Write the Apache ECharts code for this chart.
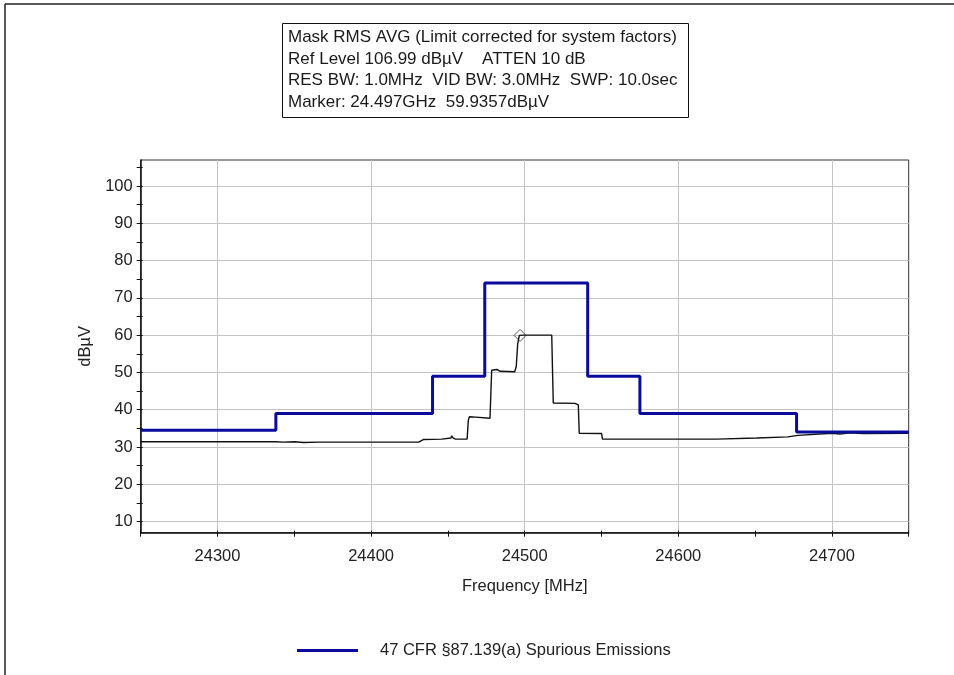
<!DOCTYPE html>
<html>
<head>
<meta charset="utf-8">
<script src="https://cdn.jsdelivr.net/npm/echarts@6/dist/echarts.min.js"></script>
<style>
html,body{margin:0;padding:0;background:#fff;}
#chart{width:954px;height:675px;}
</style>
</head>
<body>
<div id="chart"></div>
<script>
// ---- data ----
const infoLines = [
  'Mask RMS AVG (Limit corrected for system factors)',
  'Ref Level 106.99 dBµV    ATTEN 10 dB',
  'RES BW: 1.0MHz  VID BW: 3.0MHz  SWP: 10.0sec',
  'Marker: 24.497GHz  59.9357dBµV'
];
const limitName = '47 CFR §87.139(a) Spurious Emissions';
const xAxisName = 'Frequency [MHz]';
const yAxisName = 'dBµV';

const xLabelValues = [24300, 24400, 24500, 24600, 24700];
const xTickValues = [24250, 24300, 24350, 24400, 24450, 24500, 24550, 24600, 24650, 24700, 24750];
const yLabelValues = [10, 20, 30, 40, 50, 60, 70, 80, 90, 100];
const yTickValues = [10, 15, 20, 25, 30, 35, 40, 45, 50, 55, 60, 65, 70, 75, 80, 85, 90, 95, 100, 105];

// limit mask breakpoints (step)
const limitFreq  = [24250, 24338, 24440, 24474, 24541, 24575, 24677, 24750];
const limitLevel = [34.5,  39,    49,    74,    49,    39,    34,    34];

// measured trace
const traceFreq = [24250, 24264, 24265, 24266, 24271, 24272, 24273, 24338, 24339, 24343,
  24344, 24350, 24356, 24357, 24366, 24431, 24432, 24434, 24446, 24447,
  24452, 24452.5, 24453.5, 24455, 24462.5, 24463.3, 24464, 24468, 24469, 24477.4,
  24478.5, 24482, 24484, 24493.5, 24494.5, 24495.4, 24496.5, 24497.5, 24499, 24517.6,
  24518.6, 24532.7, 24533, 24534.9, 24535.5, 24550.1, 24550.6, 24583, 24583.5, 24584,
  24586, 24586.5, 24587, 24625, 24625.5, 24651, 24651.5, 24671.4, 24672, 24677.9,
  24678.5, 24700, 24705, 24712, 24720, 24750];
const traceLevel = [31.4, 31.4, 31.2, 31.4, 31.4, 31.2, 31.4, 31.4, 31.3, 31.3,
  31.5, 31.4, 31.2, 31.4, 31.3, 31.3, 31.7, 32.0, 32.1, 32.3,
  32.4, 33.0, 32.4, 32.1, 32.1, 37.2, 38.1, 38.0, 37.7, 37.7,
  50.6, 50.8, 50.3, 50.2, 51.6, 57.5, 59.94, 60.3, 60.0, 60.0,
  41.8, 41.7, 41.4, 41.3, 33.7, 33.6, 32.1, 32.1, 31.9, 32.1,
  32.1, 31.9, 32.1, 32.1, 32.3, 32.4, 32.6, 32.7, 33.0, 33.1,
  33.6, 33.7, 33.5, 33.8, 33.6, 33.7];

const markerFreq = 24497;
const markerLevel = 59.9357;

// ---- chart ----
const FONT = "'Liberation Sans', Arial, sans-serif";
const TXT = '#222';
const BLUE = '#0a0a9c';
const xMin = 24250, xMax = 24750, yMin = 7, yMax = 107;

const chart = echarts.init(document.getElementById('chart'), null, {renderer: 'canvas'});

function xAx(extra) {
  return Object.assign({
    type: 'value', min: xMin, max: xMax, position: 'bottom',
    axisLine: {show: false}, axisLabel: {show: false},
    axisTick: {show: false}, splitLine: {show: false}
  }, extra);
}
function yAx(extra) {
  return Object.assign({
    type: 'value', min: yMin, max: yMax, position: 'left',
    axisLine: {show: false}, axisLabel: {show: false},
    axisTick: {show: false}, splitLine: {show: false}
  }, extra);
}

const option = {
  animation: false,
  backgroundColor: '#fff',
  textStyle: {fontFamily: FONT},
  title: {
    text: infoLines.join('\n'),
    left: 282, top: 23,
    padding: [4, 11, 5, 6],
    borderColor: '#111', borderWidth: 1,
    textStyle: {fontFamily: FONT, fontSize: 17, fontWeight: 'normal', color: '#1a1a1a', lineHeight: 21.5}
  },
  legend: {
    data: [limitName],
    left: 292, top: 637,
    icon: 'rect', itemWidth: 61, itemHeight: 3,
    textStyle: {fontFamily: FONT, fontSize: 16.5, color: TXT, padding: [0, 0, 0, 17]}
  },
  grid: {
    left: 140.7, top: 160, right: 45.3, bottom: 142.3,
    show: true, borderColor: '#333', borderWidth: 1, backgroundColor: 'transparent'
  },
  xAxis: [
    xAx({
      axisLine: {show: true, onZero: false, lineStyle: {color: '#111', width: 1.5}},
      axisTick: {show: true, length: 4, customValues: xTickValues, lineStyle: {color: '#111'}},
      axisLabel: {show: true, customValues: xLabelValues, margin: 15, fontSize: 16.5, color: TXT, fontFamily: FONT,
                  formatter: v => String(v)},
      name: xAxisName, nameLocation: 'middle', nameGap: 45,
      nameTextStyle: {fontSize: 16.5, color: TXT, fontFamily: FONT}
    }),
    xAx({axisTick: {show: true, inside: true, length: 2, customValues: xTickValues, lineStyle: {color: '#111'}}}),
    xAx({axisTick: {show: false, customValues: xLabelValues},
         splitLine: {show: true, lineStyle: {color: '#c4c4c4', width: 1}}})
  ],
  yAxis: [
    yAx({
      axisLine: {show: true, onZero: false, lineStyle: {color: '#111', width: 1.5}},
      axisTick: {show: true, length: 4, customValues: yTickValues, lineStyle: {color: '#111'}},
      axisLabel: {show: true, customValues: yLabelValues, margin: 8, fontSize: 16.5, color: TXT, fontFamily: FONT,
                  formatter: v => String(v)},
      name: yAxisName, nameLocation: 'middle', nameGap: 42, nameRotate: 90,
      nameTextStyle: {fontSize: 16.5, color: TXT, fontFamily: FONT}
    }),
    yAx({axisTick: {show: true, inside: true, length: 2, customValues: yTickValues, lineStyle: {color: '#111'}}}),
    yAx({axisTick: {show: false, customValues: yLabelValues},
         splitLine: {show: true, lineStyle: {color: '#c4c4c4', width: 1}}})
  ],
  graphic: [
    {type: 'line', shape: {x1: 5, y1: 4, x2: 954, y2: 4}, style: {stroke: '#222', lineWidth: 1.5}, silent: true},
    {type: 'line', shape: {x1: 5, y1: 4, x2: 5, y2: 675}, style: {stroke: '#222', lineWidth: 1.5}, silent: true}
  ],
  series: [
    {
      name: 'Trace', type: 'line', xAxisIndex: 0, yAxisIndex: 0,
      data: traceFreq.map((f, i) => [f, traceLevel[i]]),
      showSymbol: false, symbol: 'none',
      lineStyle: {color: '#111', width: 1.4},
      itemStyle: {color: '#111'},
      z: 3
    },
    {
      name: limitName, type: 'line', xAxisIndex: 0, yAxisIndex: 0,
      step: 'end',
      data: limitFreq.map((f, i) => [f, limitLevel[i]]),
      showSymbol: false, symbol: 'none',
      lineStyle: {color: BLUE, width: 3},
      itemStyle: {color: BLUE},
      z: 4
    },
    {
      name: 'Marker', type: 'scatter', xAxisIndex: 0, yAxisIndex: 0,
      data: [[markerFreq, markerLevel]],
      symbol: 'diamond', symbolSize: 12,
      itemStyle: {color: 'rgba(255,255,255,0)', borderColor: '#333', borderWidth: 1},
      z: 5
    }
  ]
};
chart.setOption(option);
</script>
</body>
</html>
